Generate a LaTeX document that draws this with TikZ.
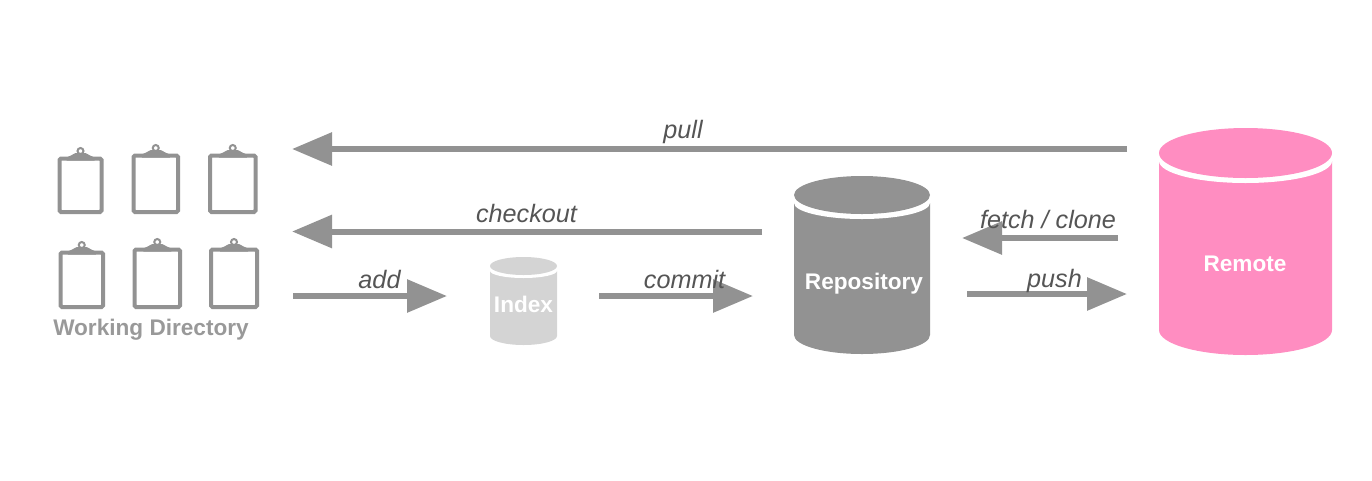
\documentclass[tikz,border=0pt]{standalone}
\usepackage{fontspec}
\setmainfont{Liberation Sans}
\usetikzlibrary{arrows.meta}
\definecolor{flow}{HTML}{929292}
\definecolor{lbl}{HTML}{555555}
\definecolor{idx}{HTML}{D4D4D4}
\definecolor{pinkc}{HTML}{FF8DC1}
\definecolor{wd}{HTML}{999999}
\tikzset{
  x=1pt,y=-1pt,
  flowarrow/.style={draw=flow,line width=6pt,-{Triangle[length=40pt,width=32pt,color=flow]}},
  actlabel/.style={text=lbl,font=\itshape\fontsize{25.2}{27}\selectfont,inner sep=0pt,anchor=base},
  cyltext/.style={text=white,font=\bfseries\fontsize{22.6}{24}\selectfont,inner sep=0pt,anchor=base},
  wdtext/.style={text=wd,font=\bfseries\fontsize{22.6}{24}\selectfont,inner sep=0pt,anchor=base},
}
% x1 x2 ycentre ry bottom gap colour
\newcommand{\drumshape}[7]{%
  \pgfmathsetmacro{\rx}{(#2-#1)/2}
  \pgfmathsetmacro{\cx}{(#2+#1)/2}
  \pgfmathsetmacro{\gy}{#3+1.6*#6}
  \pgfmathsetmacro{\gr}{#4+#6-1.6*#6}
  \pgfmathsetmacro{\by}{#5-#4}
  \fill[#7] (#1,\gy) -- (#1,\by) .. controls (#1,{\by+0.552*#4}) and ({\cx-0.552*\rx},#5) .. (\cx,#5)
     .. controls ({\cx+0.552*\rx},#5) and (#2,{\by+0.552*#4}) .. (#2,\by) -- (#2,\gy) -- cycle;
  \fill[white] (\cx,\gy) ellipse [x radius=\rx,y radius=\gr];
  \fill[#7] (\cx,#3) ellipse [x radius=\rx,y radius=#4];
}
% x1 x2 y1 y2
\newcommand{\clipboardicon}[4]{%
  \pgfmathsetmacro{\cx}{(#1+#2)/2}
  \draw[flow,line width=4pt,rounded corners=1.5pt] (#1,#3) rectangle (#2,#4);
  \fill[flow] ({\cx-14},{#3+2}) -- ({\cx-14},{#3-1}) .. controls ({\cx-11},{#3-2}) and ({\cx-8},{#3-4}) .. ({\cx-5},{#3-5.5})
    -- ({\cx+5},{#3-5.5}) .. controls ({\cx+8},{#3-4}) and ({\cx+11},{#3-2}) .. ({\cx+14},{#3-1}) -- ({\cx+14},{#3+2}) -- cycle;
  \draw[flow,fill=white,line width=2pt] (\cx,{#3-7.5}) circle (3);
}
\begin{document}
\begin{tikzpicture}
\useasboundingbox (0,0) rectangle (1372,480);

\clipboardicon{59.5}{101.5}{158.5}{212}
\clipboardicon{133.5}{178}{155.5}{212}
\clipboardicon{210}{255.5}{155.5}{212}
\clipboardicon{60.5}{103}{252.5}{307}
\clipboardicon{134.5}{180}{249.5}{307}
\clipboardicon{211}{257}{249.5}{307}
\node[wdtext] (wdir) at (151,335) {Working Directory};

\drumshape{490}{557}{266}{9}{345}{3}{idx}
\drumshape{794}{930}{195}{19}{354}{5}{flow}
\drumshape{1159}{1332}{153}{25}{355}{5}{pinkc}
\node[cyltext] (index) at (523.5,312) {Index};
\node[cyltext] (repo) at (864,289) {Repository};
\node[cyltext] (remote) at (1245,271) {Remote};

\coordinate (pullA) at (1127,149);   \coordinate (pullB) at (292,149);
\coordinate (coA) at (762,231.5);    \coordinate (coB) at (292,231.5);
\coordinate (addA) at (293,296);     \coordinate (addB) at (447,296);
\coordinate (cmA) at (599,296);      \coordinate (cmB) at (753,296);
\coordinate (feA) at (1118,238);     \coordinate (feB) at (962,238);
\coordinate (puA) at (967,294);      \coordinate (puB) at (1127,294);

\draw[flowarrow] (pullA) -- (pullB);
\draw[flowarrow] (coA) -- (coB);
\draw[flowarrow] (addA) -- (addB);
\draw[flowarrow] (cmA) -- (cmB);
\draw[flowarrow] (feA) -- (feB);
\draw[flowarrow] (puA) -- (puB);

\node[actlabel] (lpull) at (683,138) {pull};
\node[actlabel] (lco) at (526.5,222) {checkout};
\node[actlabel] (ladd) at (379.5,288) {add};
\node[actlabel] (lcm) at (684.5,288) {commit};
\node[actlabel] (lfe) at (1048,228) {fetch / clone};
\node[actlabel] (lpu) at (1054.5,287) {push};
\end{tikzpicture}
\end{document}
